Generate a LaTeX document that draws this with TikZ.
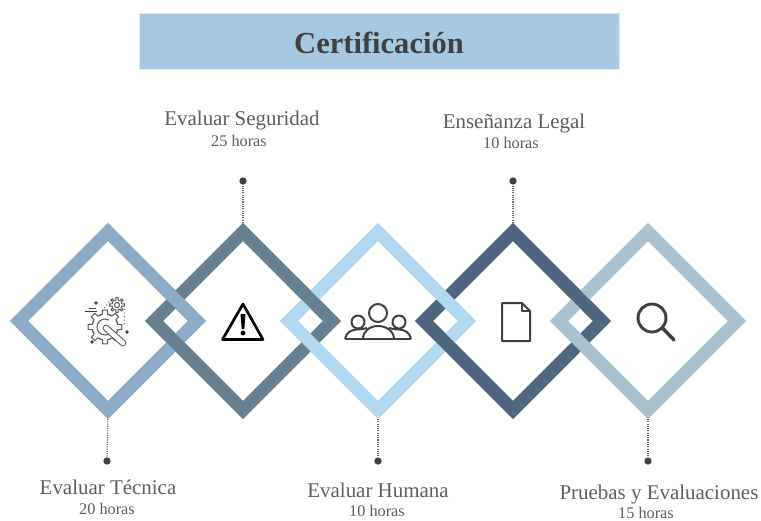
\documentclass[tikz,border=0pt]{standalone}
\usepackage{fontspec}
\setmainfont{Liberation Serif}
\usetikzlibrary{calc,shapes.geometric}
\definecolor{clrA}{HTML}{8FAAC4}
\definecolor{clrB}{HTML}{677F8E}
\definecolor{clrC}{HTML}{B2D9F0}
\definecolor{clrD}{HTML}{4F667E}
\definecolor{clrE}{HTML}{ABC1CD}
\definecolor{clrTitle}{HTML}{A6C8E0}
\definecolor{clrInk}{HTML}{404040}
\tikzset{
	rhomb/.style={diamond,aspect=1,inner sep=0pt,outer sep=0pt,minimum width=133.5pt,minimum height=133.5pt,line width=9.5pt,miter limit=10},
	leader/.style={draw=clrInk!80,line width=0.9pt,dash pattern=on 0.8pt off 0.9pt},
	dotend/.style={circle,fill=clrInk,inner sep=0pt,minimum size=5.5pt},
	lbl/.style={text=clrInk!85,font=\fontsize{15.7}{16}\selectfont,inner sep=0pt,text depth=0pt},
	hrs/.style={text=clrInk!85,font=\fontsize{12.2}{13}\selectfont,inner sep=0pt},
	icon/.style={draw=clrInk,line width=1.5pt,line join=round}
}
% gear outline: (x,y)(inner radius:outer radius)
\def\gearicon(#1,#2)(#3:#4){
	\foreach \t in {0,45,...,315}{
		\draw[draw=clrInk!85,line width=0.8pt,shift={(#1,#2)}] (\t-25:#3) -- (\t-12:#3) -- (\t-8:#4) -- (\t+8:#4) -- (\t+12:#3) -- (\t+25:#3);
	}
}

\begin{document}
\begin{tikzpicture}[x=0.75pt,y=0.75pt]
	%%%%% START %%%%%
	\useasboundingbox (0,0) rectangle (761,-521);
	
	\node[fill=clrTitle,draw=clrTitle!35,line width=0.7pt,minimum width=360pt,minimum height=42pt,inner sep=0pt,text height=18pt,text depth=0pt,text=clrInk,font=\fontsize{22.9}{23}\bfseries\selectfont] (title) at (379,-41) {Certificación};
	
	% dots and labels
	\node[dotend] (p1) at (107,-461) {};
	\node[dotend] (p2) at (243,-181) {};
	\node[dotend] (p3) at (378,-461) {};
	\node[dotend] (p4) at (513,-181) {};
	\node[dotend] (p5) at (648,-461) {};
	
	\node[lbl] (l1) at (108,-487) {Evaluar Técnica};
	\node[hrs] (h1) at (107,-509) {20 horas};
	\node[lbl] (l2) at (242,-118) {Evaluar Seguridad};
	\node[hrs] (h2) at (239,-141) {25 horas};
	\node[lbl] (l3) at (378,-490) {Evaluar Humana};
	\node[hrs] (h3) at (377,-511) {10 horas};
	\node[lbl] (l4) at (514,-121) {Enseñanza Legal};
	\node[hrs] (h4) at (511,-143) {10 horas};
	\node[lbl] (l5) at (659,-492) {Pruebas y Evaluaciones};
	\node[hrs] (h5) at (646,-512.5) {15 horas};
	
	% diamonds, each one over the one before
	\foreach \i/\x/\clr in {1/108/clrA,2/243/clrB,3/378/clrC,4/513/clrD,5/648/clrE}
		\node[rhomb,draw=\clr] (d\i) at (\x,-321) {};
	
	\draw[leader] (d1.south) -- (p1);
	\draw[leader] (d2.north) -- (p2);
	\draw[leader] (d3.south) -- (p3);
	\draw[leader] (d4.north) -- (p4);
	\draw[leader] (d5.south) -- (p5);
	\foreach \i/\clr in {1/clrA,2/clrB,3/clrC,4/clrD,5/clrE}
		\node[rhomb,draw=\clr] at (d\i) {};
	
	% upper crossings go the other way
	\foreach \i/\clr in {1/clrA,2/clrB,3/clrC,4/clrD}
		\draw[line width=9.5pt,draw=\clr] ($(d\i.north)!0.55!(d\i.east)$) -- ($(d\i.north)!0.93!(d\i.east)$);
	
	% icon 1: wrench and gears
	\gearicon(105,-327)(13:17);
	\gearicon(117,-305)(5:7.5);
	\draw[draw=clrInk!85,line width=0.8pt] (117,-305) circle (2.5);
	\draw[draw=clrInk!85,line width=0.8pt] (97,-327) arc (180:320:8) (97,-327) arc (180:60:8);
	\draw[draw=clrInk!85,line width=5pt,line cap=round] (106,-328) -- (123,-343);
	\draw[draw=white,line width=3.4pt,line cap=round] (106,-328) -- (123,-343);
	\draw[draw=clrInk,line width=0.7pt,dotted] (102,-311) -- (112,-298) (125,-309) -- (124,-325);
	\draw[draw=clrInk,line width=0.6pt] (85,-311) -- (97,-311) (89,-308) -- (96,-308);
	\fill[clrInk] (96,-303) circle (1.8) (127,-332) circle (1.8) (92,-342) circle (1.8);
	
	% icon 2: warning sign
	\draw[line width=2pt,line join=round,draw=black] (243,-304) -- (263,-339.5) -- (222.5,-339.5) -- cycle;
	\fill[black] (240.5,-314) -- (245.5,-314) -- (244.3,-329) -- (241.7,-329) -- cycle;
	\fill[black] (243,-333) circle (2.4);
	
	% icon 3: people
	\draw[icon] (378,-313) circle (9) (358,-322) circle (6.5) (399,-322) circle (6.5);
	\draw[icon] (345,-339) -- (411,-339);
	\draw[icon] (363,-339) .. controls (363,-331) and (370,-326) .. (378,-326) .. controls (386,-326) and (394,-331) .. (394,-339);
	\draw[icon] (345,-339) .. controls (346,-333) and (351,-329.5) .. (357,-329.5) .. controls (360,-329.5) and (363,-329) .. (367,-328);
	\draw[icon] (411,-339) .. controls (410,-333) and (405,-329.5) .. (399,-329.5) .. controls (396,-329.5) and (393,-329) .. (389,-328);
	
	% icon 4: sheet
	\draw[icon] (522,-303) -- (502,-303) -- (502,-341) -- (530,-341) -- (530,-311) -- cycle;
	\draw[icon,line width=1pt] (522,-303) -- (522,-311) -- (530,-311);
	
	% icon 5: magnifier
	\draw[icon,line width=2.2pt] (652,-318) circle (14);
	\draw[icon,line width=2.6pt,line cap=round] (662.5,-328) -- (674,-340);
	
	%%%%% END %%%%%
\end{tikzpicture}
\end{document}
